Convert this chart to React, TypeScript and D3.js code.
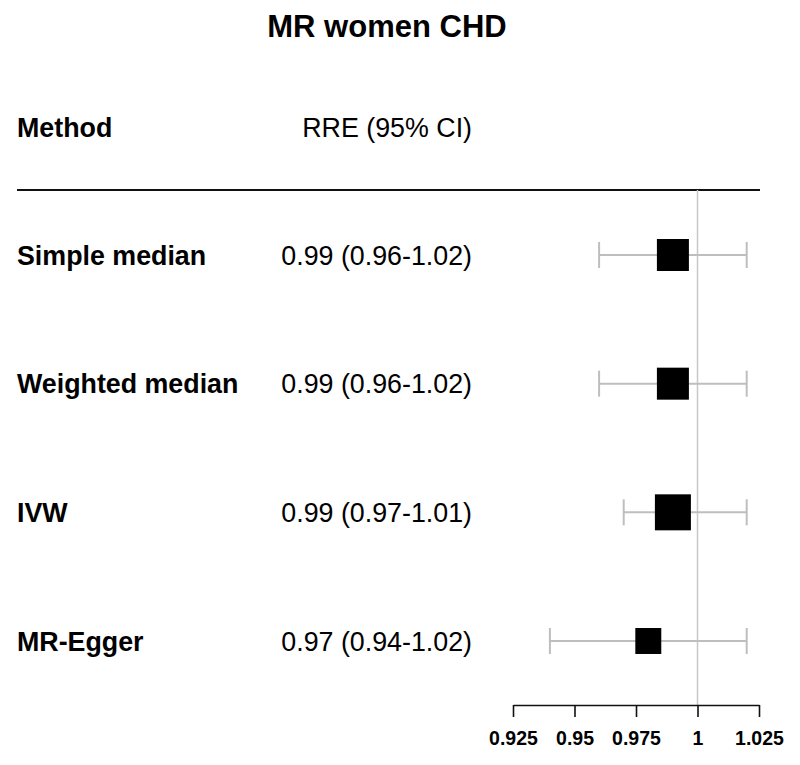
import { useEffect, useRef } from "react";
import * as d3 from "d3";

// Forest plot data
const methods = ["Simple median", "Weighted median", "IVW", "MR-Egger"];
const estimates = [0.99, 0.99, 0.99, 0.98];
const lower = [0.96, 0.96, 0.97, 0.94];
const upper = [1.02, 1.02, 1.02, 1.02];
const ciLabels = [
  "0.99 (0.96-1.02)",
  "0.99 (0.96-1.02)",
  "0.99 (0.97-1.01)",
  "0.97 (0.94-1.02)",
];
const weights = [0.79, 0.79, 1, 0.52];
const xTicks = [0.925, 0.95, 0.975, 1, 1.025];

const W = 800;
const H = 765;
const font = "'Liberation Sans', Arial, Helvetica, sans-serif";
const rowFont = 26.8;

const App = () => {
  const axisRef = useRef<SVGGElement>(null);

  const x = d3.scaleLinear().domain([0.925, 1.025]).range([513, 759]);
  const y = d3.scalePoint().domain(methods).range([255, 641]);
  const size = d3.scaleSqrt().domain([0, 1]).range([0, 36]);

  const axisY = 705;

  useEffect(() => {
    if (!axisRef.current) return;
    const g = d3.select(axisRef.current);
    g.selectAll("*").remove();
    g.call(
      d3
        .axisBottom(x)
        .tickValues(xTicks)
        .tickSize(12)
        .tickSizeOuter(0)
        .tickPadding(14)
        .tickFormat((d) => String(d))
    );
    g.select(".domain").attr("stroke", "#111").attr("stroke-width", 1.6);
    g.selectAll(".tick line").attr("stroke", "#111").attr("stroke-width", 1.6);
    g.selectAll(".tick text")
      .attr("fill", "#000")
      .style("font-family", font)
      .style("font-size", "19.5px")
      .style("font-weight", "bold");
  }, []);

  return (
    <div style={{ position: "absolute", left: 0, top: 0 }}>
      <svg width={W} height={H} style={{ display: "block", background: "#fff" }}>
        <rect width={W} height={H} fill="#fff" />
        <text
          x={387}
          y={37}
          textAnchor="middle"
          fontFamily={font}
          fontSize={31}
          fontWeight="bold"
        >
          MR women CHD
        </text>

        {/* header */}
        <text x={17} y={137} fontFamily={font} fontSize={rowFont} fontWeight="bold">
          Method
        </text>
        <text x={472} y={137} textAnchor="end" fontFamily={font} fontSize={rowFont}>
          RRE (95% CI)
        </text>
        <line x1={17} x2={760} y1={190} y2={190} stroke="#111" strokeWidth={2} />

        {/* reference line at 1 */}
        <line
          x1={x(1)}
          x2={x(1)}
          y1={190}
          y2={axisY}
          stroke="#c8c8c8"
          strokeWidth={1.5}
        />

        {methods.map((m, i) => {
          const cy = y(m) as number;
          const s = size(weights[i]);
          return (
            <g key={m}>
              <text
                x={17}
                y={cy + 9.5}
                fontFamily={font}
                fontSize={rowFont}
                fontWeight="bold"
              >
                {m}
              </text>
              <text
                x={472}
                y={cy + 9.5}
                textAnchor="end"
                fontFamily={font}
                fontSize={rowFont}
              >
                {ciLabels[i]}
              </text>
              <line
                x1={x(lower[i])}
                x2={x(upper[i])}
                y1={cy}
                y2={cy}
                stroke="#bebebe"
                strokeWidth={2}
              />
              <line
                x1={x(lower[i])}
                x2={x(lower[i])}
                y1={cy - 13}
                y2={cy + 13}
                stroke="#bebebe"
                strokeWidth={2}
              />
              <line
                x1={x(upper[i])}
                x2={x(upper[i])}
                y1={cy - 13}
                y2={cy + 13}
                stroke="#bebebe"
                strokeWidth={2}
              />
              <rect
                x={x(estimates[i]) - s / 2}
                y={cy - s / 2}
                width={s}
                height={s}
                fill="#000"
              />
            </g>
          );
        })}

        <g ref={axisRef} transform={`translate(0, ${axisY})`} />
      </svg>
    </div>
  );
};

export default App;
